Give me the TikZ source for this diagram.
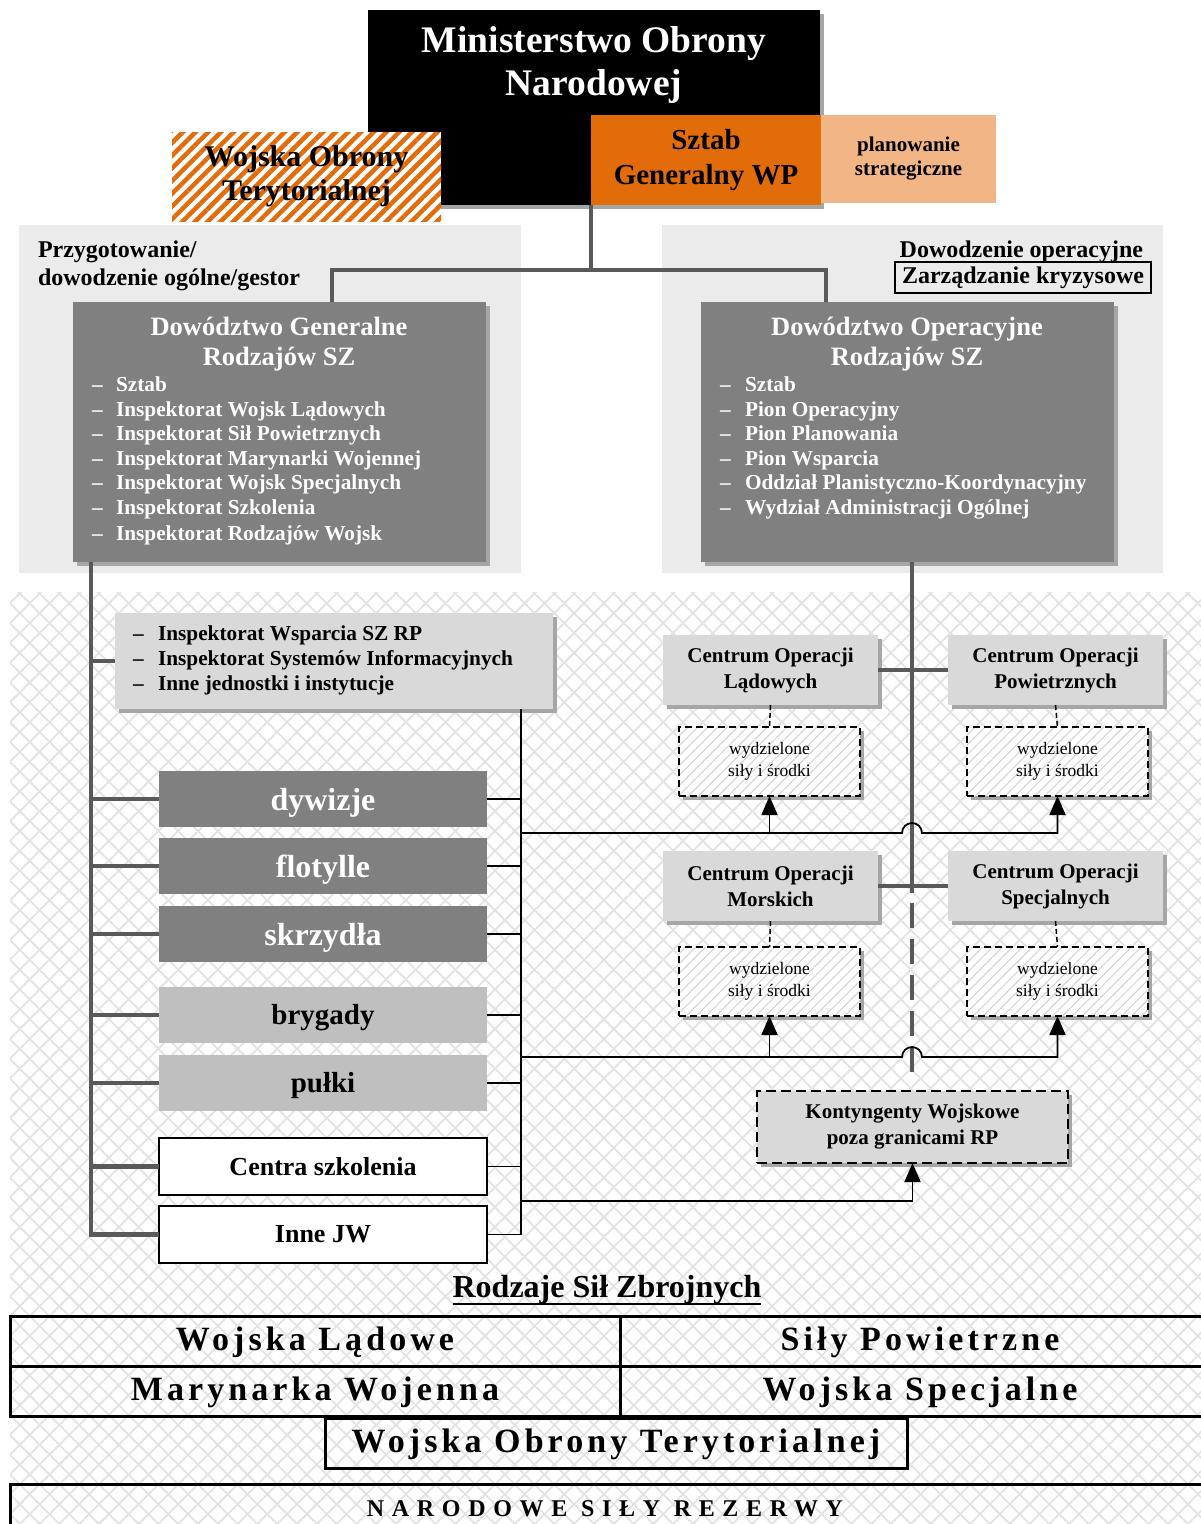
\documentclass[tikz,border=0pt]{standalone}
\usepackage{fontspec}
\setmainfont{Liberation Serif}
\newfontfamily\spacedA[LetterSpace=12]{Liberation Serif}
\newfontfamily\spacedB[LetterSpace=32]{Liberation Serif}
\usetikzlibrary{patterns.meta,arrows.meta,shadows,calc}
\definecolor{orangeD}{HTML}{E26B0A}
\definecolor{orangeL}{HTML}{F1B586}
\definecolor{regionbg}{HTML}{EBEBEB}
\definecolor{darkbox}{HTML}{808080}
\definecolor{lightbox}{HTML}{D9D9D9}
\definecolor{midbox}{HTML}{BFBFBF}
\definecolor{connc}{HTML}{595959}
\definecolor{shadc}{HTML}{A6A6A6}
\definecolor{hatchc}{HTML}{E3E3E3}
\begin{document}
\begin{tikzpicture}[x=1pt,y=-1pt,
 rect/.style={inner sep=0pt,outer sep=0pt,anchor=north west},
 shad/.style={drop shadow={shadow xshift=4pt,shadow yshift=-4pt,fill=shadc,opacity=1}},
 conn/.style={draw=connc,line width=4.5pt},
 thinl/.style={draw=black,line width=1.8pt},
 arr/.style={thinl,-{Triangle[length=19pt,width=16pt]}},
 txt/.style={inner sep=0pt,outer sep=0pt},
 listw/.style={txt,anchor=base west,text=white,font=\bfseries\fontsize{21.3}{24}\selectfont},
 listb/.style={txt,anchor=base west,text=black,font=\bfseries\fontsize{21.3}{24}\selectfont},
 unit/.style={rect,minimum width=328pt,minimum height=56pt},
 u32/.style={font=\bfseries\fontsize{32}{36}\selectfont,text height=24pt,text depth=2pt},
 u29/.style={font=\bfseries\fontsize{29}{34}\selectfont,text height=21pt,text depth=1.4pt},
 cob/.style={rect,fill=lightbox,shad,minimum width=215pt,minimum height=70pt,align=center,font=\bfseries\fontsize{21}{26}\selectfont},
 wyd/.style={rect,shad,preaction={fill=white},pattern={Lines[angle=45,distance=7pt,line width=1pt]},pattern color=black!18,draw=black,line width=1.5pt,dash pattern=on 7pt off 4pt,minimum width=181pt,minimum height=69pt,align=center,font=\fontsize{17.5}{22}\selectfont},
 cell/.style={rect,draw=black,line width=3pt,font=\spacedA\bfseries\fontsize{34}{38}\selectfont,text height=21pt,text depth=2pt},
 hdr/.style={font=\bfseries\fontsize{24}{28}\selectfont},
 ]
\useasboundingbox (0,0) rectangle (1201,1524);
\fill[white] (0,0) rectangle (1201,1524);
% crosshatch background
\fill[pattern={Lines[angle=45,distance=14pt,line width=1.8pt]},pattern color=hatchc] (10,592) rectangle (1201,1524);
\fill[pattern={Lines[angle=-45,distance=14pt,line width=1.8pt]},pattern color=hatchc] (10,592) rectangle (1201,1524);

% regions
\node[rect,fill=regionbg,minimum width=502pt,minimum height=348pt] (regL) at (19,225) {};
\node[rect,fill=regionbg,minimum width=501pt,minimum height=348pt] (regR) at (662,225) {};

% top
\node[rect,fill=black,shad,minimum width=452pt,minimum height=195pt] (mon) at (368,10) {};
\node[txt,text=white,align=center,font=\bfseries\fontsize{37.5}{43}\selectfont] (montxt) at (594,65) {Ministerstwo Obrony\\Narodowej};
\node[rect,preaction={fill=white},pattern={Lines[angle=45,distance=9pt,line width=4.5pt]},pattern color=orangeD,minimum width=269pt,minimum height=89pt,align=center,font=\bfseries\fontsize{30}{34}\selectfont] (wot) at (172,132) {Wojska Obrony\\Terytorialnej};
\node[rect,fill=orangeD,minimum width=230pt,minimum height=90pt,align=center,font=\bfseries\fontsize{29}{35}\selectfont] (sg) at (591,115) {Sztab\\Generalny WP};
\node[rect,fill=orangeL,minimum width=175pt,minimum height=88pt,align=center,font=\bfseries\fontsize{21}{24}\selectfont] (plan) at (821,115) {planowanie\\strategiczne};

% region texts
\node[txt,anchor=base west,hdr] (przy1) at (38,257) {Przygotowanie/};
\node[txt,anchor=base west,hdr] (przy2) at (38,285) {dowodzenie ogólne/gestor};
\node[txt,anchor=base east,hdr] (dowop) at (1143,257) {Dowodzenie operacyjne};
\node[rect,draw=black,line width=2.5pt,minimum width=256pt,minimum height=31pt,hdr] (zk) at (895,262) {Zarządzanie kryzysowe};

% connectors top
\coordinate (jn) at (591,270);
\coordinate (dgin) at (332,302);
\coordinate (doin) at (826,302);
\draw[conn] (sg.south west) -- (jn);
\draw[conn] (dgin) -- (dgin |- jn) -- (doin |- jn) -- (doin);

% command boxes
\node[rect,fill=darkbox,shad,minimum width=413pt,minimum height=260pt] (dg) at (73,302) {};
\node[txt,text=white,align=center,font=\bfseries\fontsize{26.5}{30}\selectfont] (dgt) at (279,344) {Dowództwo Generalne\\Rodzajów SZ};
\foreach \y/\t [count=\i] in {385/Sztab,410/Inspektorat Wojsk Lądowych,434/Inspektorat Sił Powietrznych,459/Inspektorat Marynarki Wojennej,483/Inspektorat Wojsk Specjalnych,508/Inspektorat Szkolenia,534/Inspektorat Rodzajów Wojsk}{
  \node[listw] (dgd\i) at (92,\y+6) {–};
  \node[listw] (dgi\i) at (116,\y+6) {\t};
}
\node[rect,fill=darkbox,shad,minimum width=413pt,minimum height=260pt] (do) at (701,302) {};
\node[txt,text=white,align=center,font=\bfseries\fontsize{26.5}{30}\selectfont] (dot) at (907,344) {Dowództwo Operacyjne\\Rodzajów SZ};
\foreach \y/\t [count=\i] in {385/Sztab,410/Pion Operacyjny,434/Pion Planowania,459/Pion Wsparcia,483/Oddział Planistyczno-Koordynacyjny,508/Wydział Administracji Ogólnej}{
  \node[listw] (dod\i) at (720,\y+6) {–};
  \node[listw] (doi\i) at (745,\y+6) {\t};
}

% lower left
\coordinate (ltop) at (91,562);
\coordinate (rtop) at (912,562);
\coordinate (btop) at (521,709);
\node[rect,fill=lightbox,shad,minimum width=438pt,minimum height=96pt] (inl) at (115,613) {};
\foreach \y/\t [count=\i] in {634/Inspektorat Wsparcia SZ RP,659/Inspektorat Systemów Informacyjnych,684/Inne jednostki i instytucje}{
  \node[listb] (ind\i) at (133,\y+6) {–};
  \node[listb] (ini\i) at (158,\y+6) {\t};
}
\node[unit,fill=darkbox,text=white,u32] (dyw) at (159,771) {dywizje};
\node[unit,fill=darkbox,text=white,u32] (flo) at (159,838) {flotylle};
\node[unit,fill=darkbox,text=white,u32] (skr) at (159,906) {skrzydła};
\node[unit,fill=midbox,u29] (bry) at (159,987) {brygady};
\node[unit,fill=midbox,u29] (pul) at (159,1055) {pułki};
\node[unit,fill=white,draw=black,line width=2pt,minimum height=57pt,font=\bfseries\fontsize{26}{30}\selectfont] (cen) at (159,1138) {Centra szkolenia};
\node[unit,fill=white,draw=black,line width=2pt,minimum height=57pt,font=\bfseries\fontsize{26}{30}\selectfont] (ijw) at (159,1206) {Inne JW};

\draw[conn] (ltop) -- (ltop |- ijw.west) -- (ijw.west);
\foreach \n in {inl,dyw,flo,skr,bry,pul,cen} \draw[conn] (ltop |- \n.west) -- (\n.west);
\draw[thinl] (btop) -- (btop |- ijw.east) -- (ijw.east);
\foreach \n in {dyw,flo,skr,bry,pul,cen} \draw[thinl] (\n.east) -- (\n.east -| btop);

% right side
\coordinate (rsolid) at (912,893);
\coordinate (rdash) at (912,903);
\coordinate (rend) at (912,1080);
\draw[conn] (rtop) -- (rsolid);
\draw[conn,dash pattern=on 25pt off 11pt] (rdash) -- (rend);

\node[cob] (col) at (663,635) {Centrum Operacji\\Lądowych};
\node[cob] (cop) at (948,635) {Centrum Operacji\\Powietrznych};
\node[cob] (com) at (663,851) {Centrum Operacji\\Morskich};
\node[cob] (cos) at (948,851) {Centrum Operacji\\Specjalnych};
\draw[conn] (col.east) -- (col.east -| cop.west);
\draw[conn] (com.east) -- (com.east -| cos.west);

\node[wyd] (wlad) at (679,727) {wydzielone\\siły i środki};
\node[wyd] (wpow) at (967,727) {wydzielone\\siły i środki};
\node[wyd] (wmor) at (679,947) {wydzielone\\siły i środki};
\node[wyd] (wspe) at (967,947) {wydzielone\\siły i środki};
\foreach \a/\b in {col/wlad,cop/wpow,com/wmor,cos/wspe}
  \draw[black,line width=1.5pt,dash pattern=on 5pt off 3pt] (\a.south) -- (\b.north);

\node[rect,fill=lightbox,shad,draw=black,line width=2pt,dash pattern=on 10pt off 5pt,minimum width=311pt,minimum height=72pt,align=center,font=\bfseries\fontsize{21}{26}\selectfont] (kont) at (757,1091) {Kontyngenty Wojskowe\\poza granicami RP};

\coordinate (h1) at (521,833);
\coordinate (h2) at (521,1057);
\coordinate (h3) at (521,1201);
\draw[arr] (h1) -- (902,833) arc[start angle=180,end angle=360,radius=10] -| (wpow.south);
\draw[arr] (wlad.south |- h1) -- (wlad.south);
\draw[arr] (h2) -- (902,1057) arc[start angle=180,end angle=360,radius=10] -| (wspe.south);
\draw[arr] (wmor.south |- h2) -- (wmor.south);
\draw[arr] (h3) -| (kont.south);

% bottom
\node[txt,font=\bfseries\fontsize{32}{36}\selectfont] (rsz) at (607,1290) {Rodzaje Sił Zbrojnych};
\draw[line width=2pt] ([yshift=-6pt]rsz.base west) -- ([yshift=-6pt]rsz.base east);
\node[cell,minimum width=610pt,minimum height=50pt] (wl) at (10,1316) {Wojska Lądowe};
\node[cell,minimum width=600pt,minimum height=50pt] (spw) at (620,1316) {Siły Powietrzne};
\node[cell,minimum width=610pt,minimum height=50pt] (mw) at (10,1366) {Marynarka Wojenna};
\node[cell,minimum width=600pt,minimum height=50pt] (wsp) at (620,1366) {Wojska Specjalne};
\node[cell,minimum width=582pt,minimum height=50pt] (wot2) at (325,1418) {Wojska Obrony Terytorialnej};
\node[rect,draw=black,line width=3pt,minimum width=1210pt,minimum height=60pt] (nsr) at (10,1484) {};
\node[txt,font=\spacedB\bfseries\fontsize{24}{28}\selectfont] (nsrt) at (605,1509) {NARODOWE SIŁY REZERWY};
\end{tikzpicture}
\end{document}
